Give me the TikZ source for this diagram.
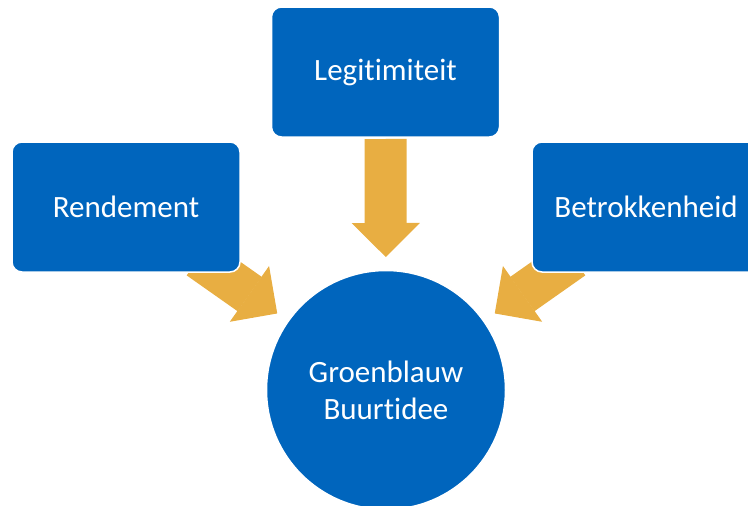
\documentclass[tikz,border=0pt]{standalone}
\usepackage{fontspec}
\setmainfont{Carlito}[Ligatures={NoCommon}]
\usepackage{tikz}
\usetikzlibrary{arrows.meta}
\usetikzlibrary{backgrounds}
\definecolor{deepblue}{HTML}{0065BD}
\definecolor{ochre}{HTML}{E8AE42}
\tikzset{basic/.style={draw=white,line width=1.5pt,fill=deepblue,text=white,
                       font=\fontsize{31}{37}\selectfont,align=center}}
\tikzset{pillar/.style={basic,rectangle,rounded corners=10pt,
                        minimum width=228pt,minimum height=130pt}}
\tikzset{core/.style={basic,circle,minimum size=239pt,inner sep=0pt}}

\begin{document}
\begin{tikzpicture}[x=1pt,y=-1pt]
	\tikzstyle{push}=[ochre,line width=42pt,shorten >=133pt,
	  -{Triangle[length=34pt,width=68pt,line width=1.2pt]}]
    % the page is cut at the right and at the bottom
    \useasboundingbox (0,0) rectangle (748,506);
    \clip (0,0) rectangle (748,506);

    % The three factors above and the idea in the middle:
    \node (legitimiteit)  [pillar] at (385.5,72) {Legitimiteit};
    \node (rendement)     [pillar] at (126,207)  {Rendement};
    \node (betrokkenheid) [pillar] at (646,207)  {Betrokkenheid};
    \node (buurtidee)     [core]   at (386,390)  {Groenblauw\\Buurtidee};

    % The block arrows go under the boxes:
    \begin{scope}[on background layer]
      \draw[push,shorten <=67pt] (legitimiteit.center) -- (buurtidee.center);
      \draw[push,shorten <=89pt] (rendement.center)    -- (buurtidee.center);
      \draw[push,shorten <=89pt] (betrokkenheid.center) -- (buurtidee.center);
    \end{scope}

\end{tikzpicture}
\end{document}
